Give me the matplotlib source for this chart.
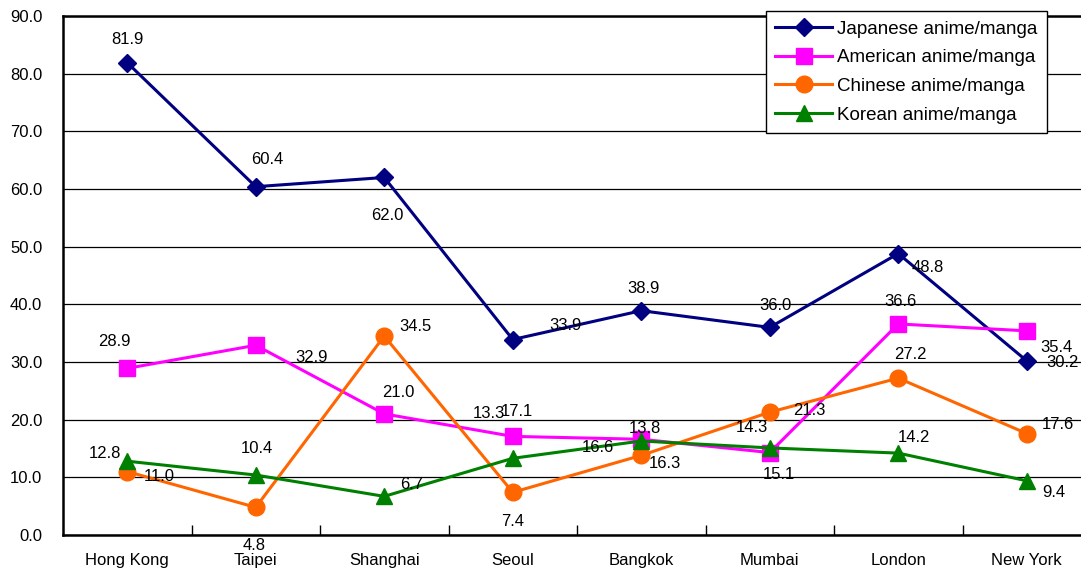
import numpy as np
import matplotlib
matplotlib.use('Agg')
import matplotlib.pyplot as plt

plt.rcParams['font.family'] = ['Liberation Sans', 'DejaVu Sans']

cities = ['Hong Kong', 'Taipei', 'Shanghai', 'Seoul', 'Bangkok', 'Mumbai', 'London', 'New York']
japanese = [81.9, 60.4, 62.0, 33.9, 38.9, 36.0, 48.8, 30.2]
american = [28.9, 32.9, 21.0, 17.1, 16.6, 14.3, 36.6, 35.4]
chinese = [11.0, 4.8, 34.5, 7.4, 13.8, 21.3, 27.2, 17.6]
korean = [12.8, 10.4, 6.7, 13.3, 16.3, 15.1, 14.2, 9.4]

# label offsets in pixels (dx, dy with y pointing down)
off_jp = [(0, -23), (11, -27), (3, 38), (53, -14), (2, -22), (6, -22), (30, 14), (36, 2)]
off_us = [(-13, -27), (56, 12), (14, -21), (4, -25), (-43, 8), (-18, -25), (2, -22), (30, 17)]
off_cn = [(32, 5), (-2, 38), (31, -10), (0, 29), (4, -27), (40, -2), (12, -24), (31, -9)]
off_kr = [(-22, -8), (1, -27), (27, -12), (-24, -45), (24, 22), (9, 27), (16, -16), (27, 12)]

series = [
    ('Japanese anime/manga', japanese, '#000080', 'D', 9, off_jp),
    ('American anime/manga', american, '#FF00FF', 's', 11, off_us),
    ('Chinese anime/manga', chinese, '#FF6600', 'o', 12, off_cn),
    ('Korean anime/manga', korean, '#008000', '^', 12, off_kr),
]

W, H = 1081, 572
fig = plt.figure(figsize=(W / 100, H / 100), dpi=100)
ax = fig.add_axes([63 / W, (H - 535) / H, (1091 - 63) / W, (535 - 16) / H])

x = np.arange(len(cities))
handles = []
for name, vals, col, mk, ms, offs in series:
    ln, = ax.plot(x, vals, color=col, marker=mk, markersize=ms, linewidth=2.2,
                  label=name, zorder=3)
    handles.append(ln)
    for xi, v, (dx, dy) in zip(x, vals, offs):
        ax.annotate(f'{v:.1f}', (xi, v), xytext=(dx, -dy), textcoords='offset pixels',
                    ha='center', va='center', fontsize=12, color='black', zorder=5)

ax.set_xlim(-0.5, 7.5)
ax.set_ylim(0, 90)
ax.set_yticks(np.arange(0, 91, 10))
ax.set_yticklabels([f'{t:.1f}' for t in np.arange(0, 91, 10)], fontsize=12)
ax.set_xticks(x)
ax.set_xticklabels(cities, fontsize=12)
ax.set_xticks(np.arange(0.5, 7, 1), minor=True)
ax.tick_params(axis='x', which='major', length=0, pad=13)
ax.tick_params(axis='x', which='minor', direction='in', length=7, width=1, color='black')
ax.tick_params(axis='y', length=0, pad=15)
ax.grid(axis='y', color='black', linewidth=0.9)
ax.set_axisbelow(True)

for s in ['left', 'bottom', 'top']:
    ax.spines[s].set_color('black')
    ax.spines[s].set_linewidth(1.8)
ax.spines['right'].set_visible(False)

fig.legend(handles=handles, loc='upper right', bbox_to_anchor=(1047 / W, 1 - 11 / H),
           fontsize=13.5, frameon=True, fancybox=False, edgecolor='black', framealpha=1,
           handlelength=3.0, handletextpad=0.3, labelspacing=0.62, borderpad=0.5,
           borderaxespad=0)

fig.savefig('out.png', dpi=100)
